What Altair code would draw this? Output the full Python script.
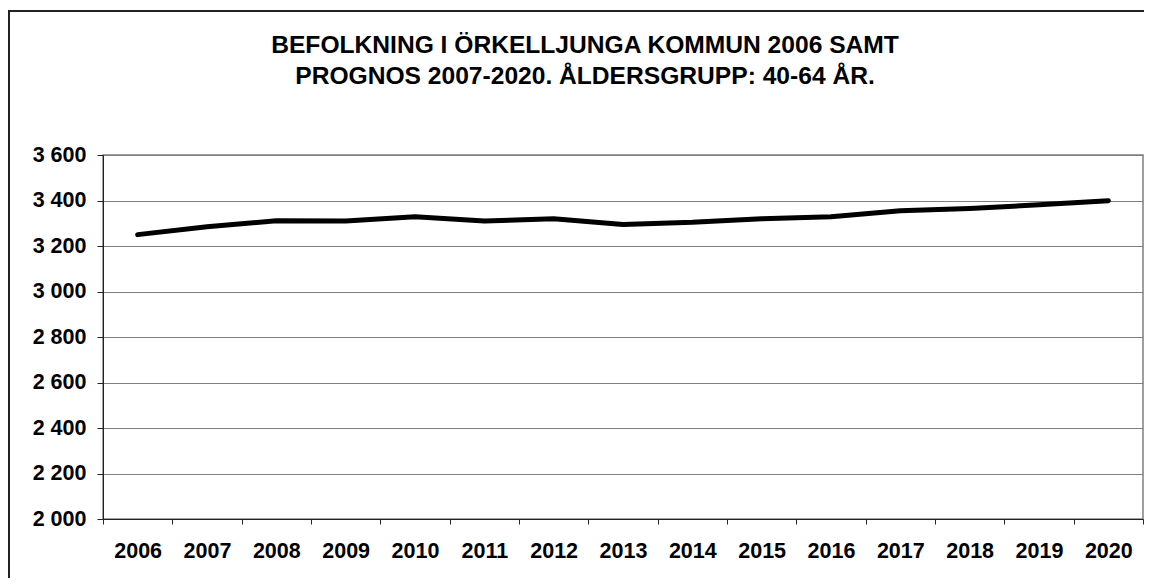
import altair as alt
import pandas as pd

years = ["2006", "2007", "2008", "2009", "2010", "2011", "2012", "2013",
         "2014", "2015", "2016", "2017", "2018", "2019", "2020"]
population = [3250, 3285, 3311, 3310, 3329, 3310, 3320, 3295,
              3304, 3320, 3329, 3355, 3365, 3381, 3399]
y_ticks = [2000, 2200, 2400, 2600, 2800, 3000, 3200, 3400, 3600]
title_lines = ["BEFOLKNING I ÖRKELLJUNGA KOMMUN 2006 SAMT",
               "PROGNOS 2007-2020. ÅLDERSGRUPP: 40-64 ÅR."]

df = pd.DataFrame({"year": years, "value": population})

FONT = "Liberation Sans"

base = alt.Chart(df)

line = base.mark_line(color="black", strokeWidth=5, strokeCap="round",
                      strokeJoin="round").encode(
    x=alt.X("year:N", sort=years, title=None,
            scale=alt.Scale(paddingInner=0, paddingOuter=0),
            axis=alt.Axis(labelAngle=0, tickBand="extent", tickSize=5,
                          labelPadding=16, labelFontSize=21.5,
                          labelFontWeight="bold", labelFont=FONT,
                          labelColor="black", domainColor="#222222",
                          tickColor="#222222", grid=False)),
    y=alt.Y("value:Q", title=None,
            scale=alt.Scale(domain=[2000, 3600], nice=False, zero=False),
            axis=alt.Axis(values=y_ticks, tickSize=6, labelPadding=11,
                          labelFontSize=21.5, labelFontWeight="bold",
                          labelFont=FONT, labelColor="black",
                          labelExpr="replace(format(datum.value, ','), ',', ' ')",
                          domainColor="#222222", tickColor="#222222",
                          grid=True, gridColor="#808080", gridWidth=1)),
)

border = alt.Chart(alt.Data(values=[{}])).mark_rect(
    fillOpacity=0, stroke="#222222", strokeWidth=2, clip=False
).encode(
    x=alt.value(-94), x2=alt.value(1060),
    y=alt.value(-144), y2=alt.value(460),
)

title = alt.Chart(alt.Data(values=[{}])).mark_text(
    text="\n".join(title_lines), lineBreak="\n", lineHeight=31,
    font=FONT, fontSize=24.6, fontWeight="bold", color="black",
    align="center", baseline="alphabetic",
).encode(x=alt.value(482), y=alt.value(-102))

chart = alt.layer(border, title, line).properties(
    width=1040, height=364,
    padding={"left": 95, "top": 147, "right": 1, "bottom": 59},
    autosize=alt.AutoSizeParams(type="none"),
).configure_view(stroke="#808080", strokeWidth=1.5)

chart.save("out.html", embed_options={"renderer": "svg", "actions": False})
